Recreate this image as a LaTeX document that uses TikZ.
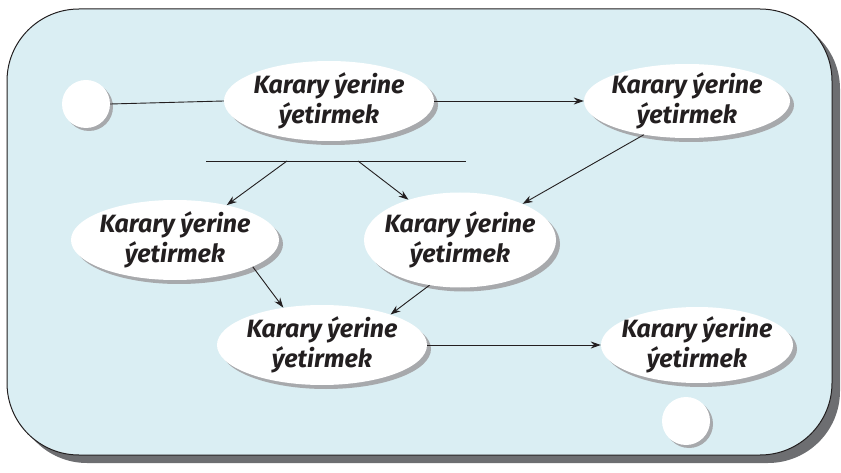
\documentclass[tikz,border=0pt]{standalone}
\usepackage{fontspec}
\newfontfamily\actfont{Fira Sans}
\usetikzlibrary{shapes.geometric,arrows.meta,shadows}
\definecolor{panelblue}{HTML}{DAEEF3}
\definecolor{panelshadow}{HTML}{6D6E71}
\definecolor{nodeshadow}{HTML}{A7A9AC}
\definecolor{inktext}{HTML}{231F20}
\begin{document}
\begin{tikzpicture}[x=1pt, y=-1pt,
activity/.style={ellipse, fill=white, inner xsep=-20pt, inner ysep=-8pt, text=inktext, align=center,
  font=\actfont\bfseries\itshape\fontsize{25}{30}\selectfont,
  drop shadow={shadow xshift=4pt, shadow yshift=-4pt, fill=nodeshadow, opacity=1}},
statenode/.style={circle, fill=white, minimum size=48pt, inner sep=0pt,
  drop shadow={shadow xshift=3pt, shadow yshift=-3pt, fill=nodeshadow, opacity=1}},
flow/.style={draw=inktext, line width=0.9pt},
arrowflow/.style={flow, -{Stealth[length=10pt, width=7pt]}},
]
    \useasboundingbox (0,0) rectangle (841,473);
    \fill[panelshadow, rounded corners=72pt] (15,17) rectangle (840,463);
    \draw[fill=panelblue, draw=inktext, line width=1pt, rounded corners=72pt] (7,9) rectangle (832,455);

    \node[statenode] (start) at (86,104) {};
    \node[activity, minimum width=210pt, minimum height=80pt] (decide) at (329,101) {Karary ýerine\\ýetirmek};
    \node[activity, minimum width=206pt, minimum height=74pt] (topright) at (687,101) {Karary ýerine\\ýetirmek};
    \node[activity, minimum width=208pt, minimum height=80pt] (left) at (175,240) {Karary ýerine\\ýetirmek};
    \node[activity, minimum width=192pt, minimum height=95pt] (middle) at (460,240) {Karary ýerine\\ýetirmek};
    \node[activity, minimum width=210pt, minimum height=80pt] (join) at (322,345) {Karary ýerine\\ýetirmek};
    \node[activity, minimum width=192pt, minimum height=76pt] (final) at (697,345) {Karary ýerine\\ýetirmek};
    \node[statenode] (stop) at (686,421) {};

    \coordinate (barleft) at (206,161);
    \coordinate (barright) at (466,161);
    \coordinate (forkone) at (287,161);
    \coordinate (forktwo) at (358,161);

    \draw[flow] (start.east) -- (decide.west);
    \draw[arrowflow] (decide) -- (topright);
    \draw[flow] (barleft) -- (barright);
    \draw[arrowflow] (forkone) -- (left.34);
    \draw[arrowflow] (forktwo) -- (middle.142);
    \draw[arrowflow] (topright.-142) -- (middle.30);
    \draw[arrowflow] (left.-19) -- (join.136);
    \draw[arrowflow] (middle.-124) -- (join.24);
    \draw[arrowflow] (join) -- (final);
  \end{tikzpicture}
\end{document}
